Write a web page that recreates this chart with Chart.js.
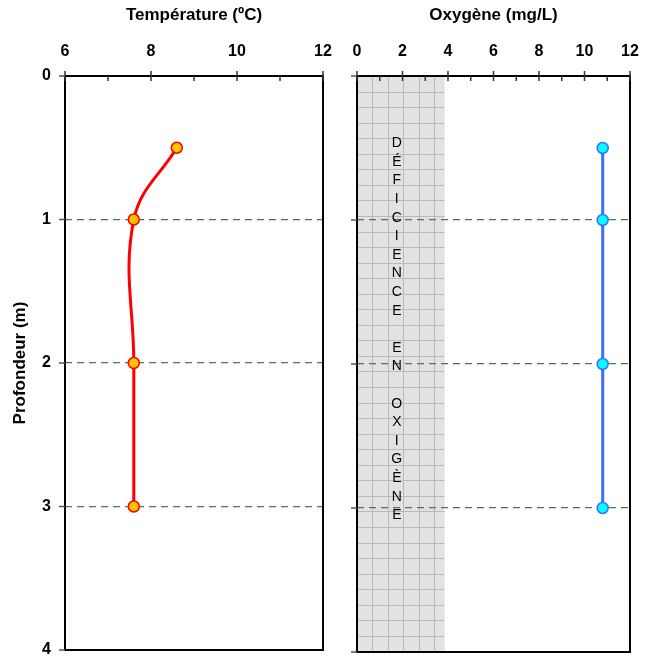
<!DOCTYPE html>
<html>
<head>
<meta charset="utf-8">
<script src="https://cdn.jsdelivr.net/npm/chart.js@4.4.1/dist/chart.umd.min.js"></script>
<style>
  body { margin: 0; background: #fff; }
  #wrap { position: relative; width: 654px; height: 663px; }
  canvas { position: absolute; top: 0; }
  #temp { left: 0; }
  #oxy { left: 340px; }
</style>
</head>
<body>
<div id="wrap">
  <canvas id="temp" width="340" height="663"></canvas>
  <canvas id="oxy" width="314" height="663"></canvas>
</div>
<script>
// profondeur des mesures (m)
const depths = [0.5, 1, 2, 3];
const temperature = [8.6, 7.6, 7.6, 7.6];
const oxygen = [10.8, 10.8, 10.8, 10.8];

// graduations
const depthTicks = [0, 1, 2, 3, 4];
const tempTicks = [6, 8, 10, 12];
const oxyTicks = [0, 2, 4, 6, 8, 10, 12];

// zone grise "déficience en oxygène"
const deficitLimit = 3.85;
const deficitLabel = ['D', 'É', 'F', 'I', 'C', 'I', 'E', 'N', 'C', 'E', '', 'E', 'N', '', 'O', 'X', 'I', 'G', 'È', 'N', 'E'];

Chart.defaults.font.family = '"Liberation Sans", Arial, sans-serif';
Chart.defaults.color = '#000';

const toPoints = (xs) => xs.map((v, i) => ({ x: v, y: depths[i] }));

// the axes compute label overflow padding, we place things ourselves
const noPad = s => { s.paddingLeft = s.paddingRight = s.paddingTop = s.paddingBottom = 0; };

// cadre noir + petites graduations
const frame = {
  id: 'frame',
  afterDatasetsDraw(chart, args, opts) {
    const { ctx, chartArea: a, scales: { x, y } } = chart;
    ctx.save();
    ctx.strokeStyle = '#000';
    ctx.lineWidth = 2;
    ctx.strokeRect(a.left, a.top, a.right - a.left, a.bottom - a.top);
    ctx.lineWidth = 1.5;
    ctx.strokeStyle = '#333';
    x.ticks.forEach(t => {
      const px = x.getPixelForValue(t.value);
      const major = opts.major.includes(t.value);
      ctx.beginPath();
      ctx.moveTo(px, major ? a.top - 5 : a.top);
      ctx.lineTo(px, a.top + 5);
      ctx.stroke();
    });
    ctx.strokeStyle = '#555';
    depthTicks.forEach(v => {
      const py = y.getPixelForValue(v);
      ctx.beginPath();
      ctx.moveTo(a.left - 6, py);
      ctx.lineTo(a.left, py);
      ctx.stroke();
    });
    ctx.restore();
  }
};

const deficitBand = {
  id: 'deficitBand',
  beforeDraw(chart) {
    const { ctx, chartArea: a, scales: { x, y } } = chart;
    const right = x.getPixelForValue(deficitLimit);
    ctx.save();
    ctx.fillStyle = '#e2e2e2';
    ctx.fillRect(a.left, a.top, right - a.left, a.bottom - a.top);
    ctx.strokeStyle = '#bababa';
    ctx.lineWidth = 1;
    for (let v = 0.68; v < deficitLimit; v += 0.68) {
      const px = Math.round(x.getPixelForValue(v)) + 0.5;
      ctx.beginPath(); ctx.moveTo(px, a.top); ctx.lineTo(px, a.bottom); ctx.stroke();
    }
    for (let d = 0.108; d < 4; d += 0.108) {
      const py = Math.round(y.getPixelForValue(d)) + 0.5;
      ctx.beginPath(); ctx.moveTo(a.left, py); ctx.lineTo(right, py); ctx.stroke();
    }
    ctx.restore();
  },
  afterDatasetsDraw(chart) {
    const { ctx, scales: { x, y } } = chart;
    const cx = x.getPixelForValue(1.75);
    const cy = y.getPixelForValue(1.76);
    const lh = 18.6;
    ctx.save();
    ctx.font = '14px "Liberation Sans", Arial, sans-serif';
    ctx.fillStyle = '#000';
    ctx.textAlign = 'center';
    ctx.textBaseline = 'middle';
    deficitLabel.forEach((ch, i) => {
      ctx.fillText(ch, cx, cy + (i - (deficitLabel.length - 1) / 2) * lh);
    });
    ctx.restore();
  }
};

function depthAxis(withLabels) {
  return {
    type: 'linear',
    reverse: true,
    min: 0,
    max: 4,
    afterFit: s => { s.width = withLabels ? 65 : 17; noPad(s); },
    ticks: {
      display: withLabels,
      stepSize: 1,
      padding: 14,
      font: { size: 16, weight: 'bold' }
    },
    grid: {
      drawTicks: false,
      lineWidth: 1.2,
      color: c => (c.tick && c.tick.value > 0 && c.tick.value < 4) ? '#666' : 'rgba(0,0,0,0)'
    },
    border: { display: false, dash: [7, 5] },
    title: {
      display: withLabels,
      text: 'Profondeur (m)',
      font: { size: 17, weight: 'bold' },
      padding: { top: 10, bottom: 0 }
    }
  };
}

function valueAxis(min, max, labels, title) {
  return {
    type: 'linear',
    position: 'top',
    min: min,
    max: max,
    afterFit: s => { s.height = 76; noPad(s); },
    ticks: {
      stepSize: 1,
      padding: 15,
      maxRotation: 0,
      autoSkip: false,
      font: { size: 16, weight: 'bold' },
      callback: v => labels.includes(v) ? String(v) : ''
    },
    grid: { display: false, drawTicks: false },
    border: { display: false },
    title: {
      display: true,
      text: title,
      font: { size: 17, weight: 'bold' },
      padding: { top: 5, bottom: 0 }
    }
  };
}

new Chart(document.getElementById('temp'), {
  type: 'scatter',
  data: {
    datasets: [{
      label: 'Température',
      data: toPoints(temperature),
      showLine: true,
      tension: 0.4,
      borderColor: '#ff0000',
      borderWidth: 3,
      pointRadius: 5.5,
      pointBorderWidth: 1.5,
      pointBackgroundColor: '#ffc400',
      pointBorderColor: '#ff0000'
    }]
  },
  options: {
    responsive: false,
    animation: false,
    devicePixelRatio: 1,
    layout: { padding: { top: 0, left: 0, right: 17, bottom: 13 } },
    plugins: { legend: { display: false }, tooltip: { enabled: false }, frame: { major: tempTicks } },
    scales: {
      x: valueAxis(6, 12, tempTicks, 'Température (ºC)'),
      y: depthAxis(true)
    }
  },
  plugins: [frame]
});

new Chart(document.getElementById('oxy'), {
  type: 'scatter',
  data: {
    datasets: [{
      label: 'Oxygène',
      data: toPoints(oxygen),
      showLine: true,
      tension: 0.4,
      borderColor: '#3a6dff',
      borderWidth: 3,
      pointRadius: 5.5,
      pointBorderWidth: 1.5,
      pointBackgroundColor: '#00ffff',
      pointBorderColor: '#3a6dff'
    }]
  },
  options: {
    responsive: false,
    animation: false,
    devicePixelRatio: 1,
    layout: { padding: { top: 0, left: 0, right: 24, bottom: 11 } },
    plugins: { legend: { display: false }, tooltip: { enabled: false }, frame: { major: oxyTicks } },
    scales: {
      x: valueAxis(0, 12, oxyTicks, 'Oxygène (mg/L)'),
      y: depthAxis(false)
    }
  },
  plugins: [deficitBand, frame]
});
</script>
</body>
</html>
